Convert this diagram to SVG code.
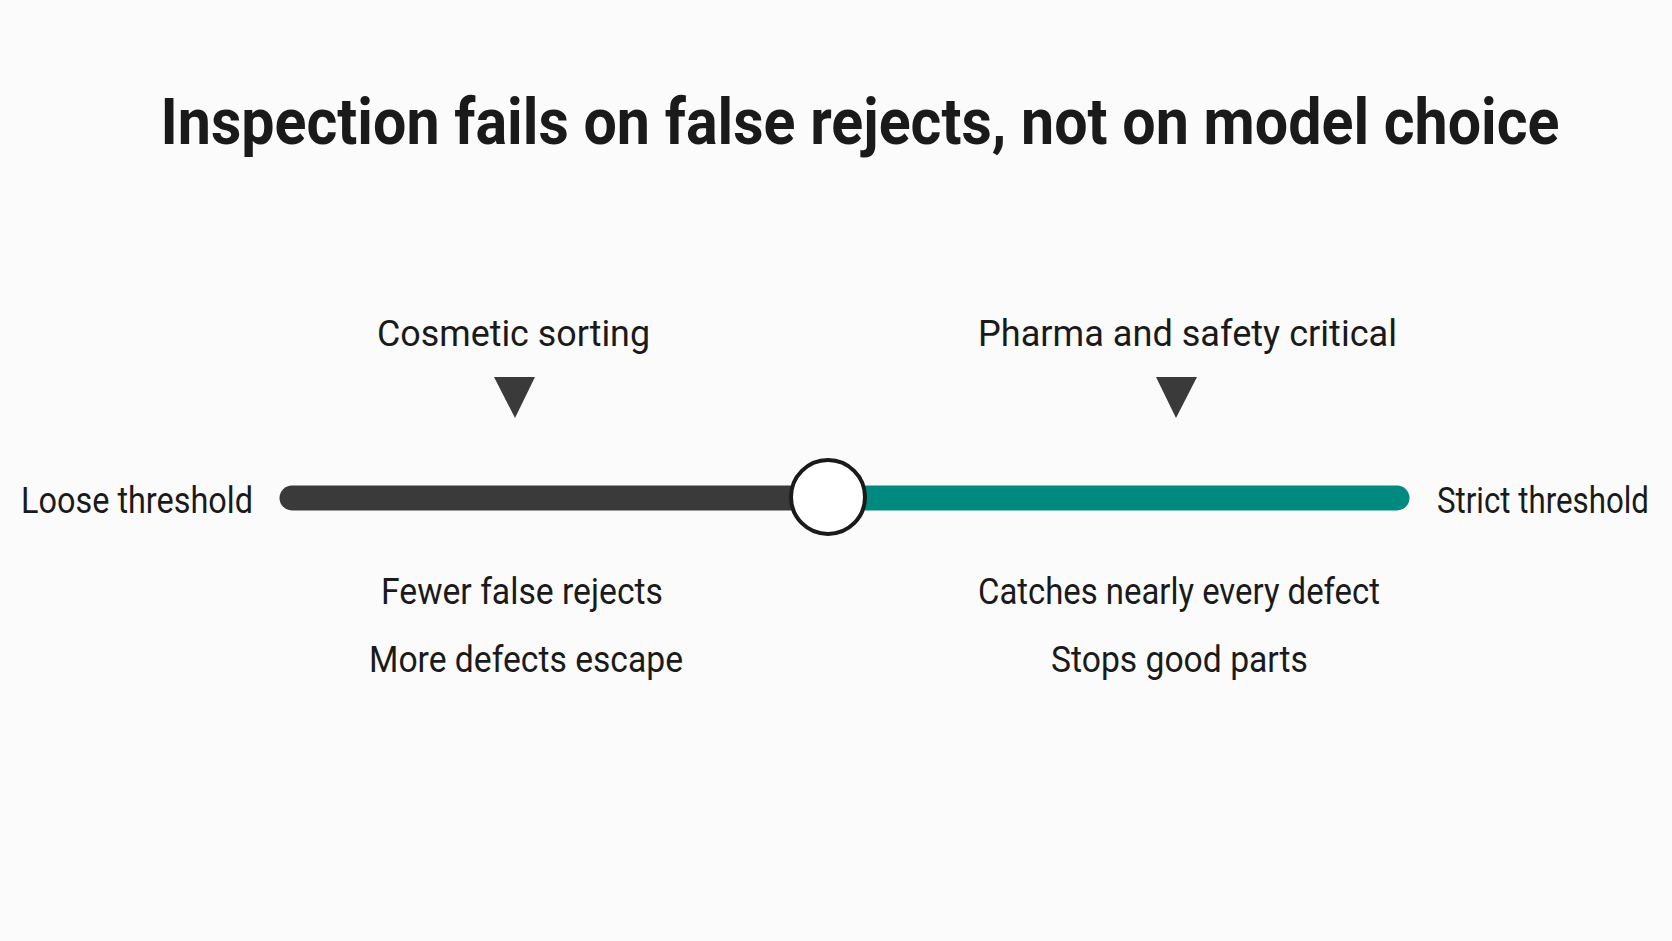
<svg xmlns="http://www.w3.org/2000/svg" width="1672" height="941" viewBox="0 0 1672 941">
<style>
text{font-family:Roboto,"Liberation Sans",sans-serif;fill:#1a1a1a;}
.t{font-size:36px;}
.title{font-size:64px;font-weight:bold;}
</style>
<rect width="1672" height="941" fill="#fbfbfb"/>
<text class="title" x="860" y="144" text-anchor="middle" textLength="1399" lengthAdjust="spacingAndGlyphs">Inspection fails on false rejects, not on model choice</text>
<g id="connectors">
<line x1="292" y1="498" x2="828" y2="498" stroke="#3a3a3a" stroke-width="25" stroke-linecap="round"/>
<line x1="828" y1="498" x2="1397" y2="498" stroke="#00897f" stroke-width="25" stroke-linecap="round"/>
</g>
<g id="knob"><circle cx="828" cy="497" r="37" fill="#fff" stroke="#1a1a1a" stroke-width="4"/></g>
<g id="loose"><text class="t" x="21" y="513" textLength="232" lengthAdjust="spacingAndGlyphs">Loose threshold</text></g>
<g id="strict"><text class="t" x="1437" y="513" textLength="212" lengthAdjust="spacingAndGlyphs">Strict threshold</text></g>
<g id="cosmetic"><text class="t" x="377" y="346" textLength="273" lengthAdjust="spacingAndGlyphs">Cosmetic sorting</text>
<polygon points="494,377 535,377 515,418" fill="#3a3a3a"/></g>
<g id="pharma"><text class="t" x="978" y="346" textLength="419" lengthAdjust="spacingAndGlyphs">Pharma and safety critical</text>
<polygon points="1156,377 1197,377 1176,418" fill="#3a3a3a"/></g>
<g id="loose-effects"><text class="t" x="381" y="604" textLength="282" lengthAdjust="spacingAndGlyphs">Fewer false rejects</text>
<text class="t" x="369" y="672" textLength="314" lengthAdjust="spacingAndGlyphs">More defects escape</text></g>
<g id="strict-effects"><text class="t" x="978" y="604" textLength="402" lengthAdjust="spacingAndGlyphs">Catches nearly every defect</text>
<text class="t" x="1051" y="672" textLength="257" lengthAdjust="spacingAndGlyphs">Stops good parts</text></g>
</svg>
